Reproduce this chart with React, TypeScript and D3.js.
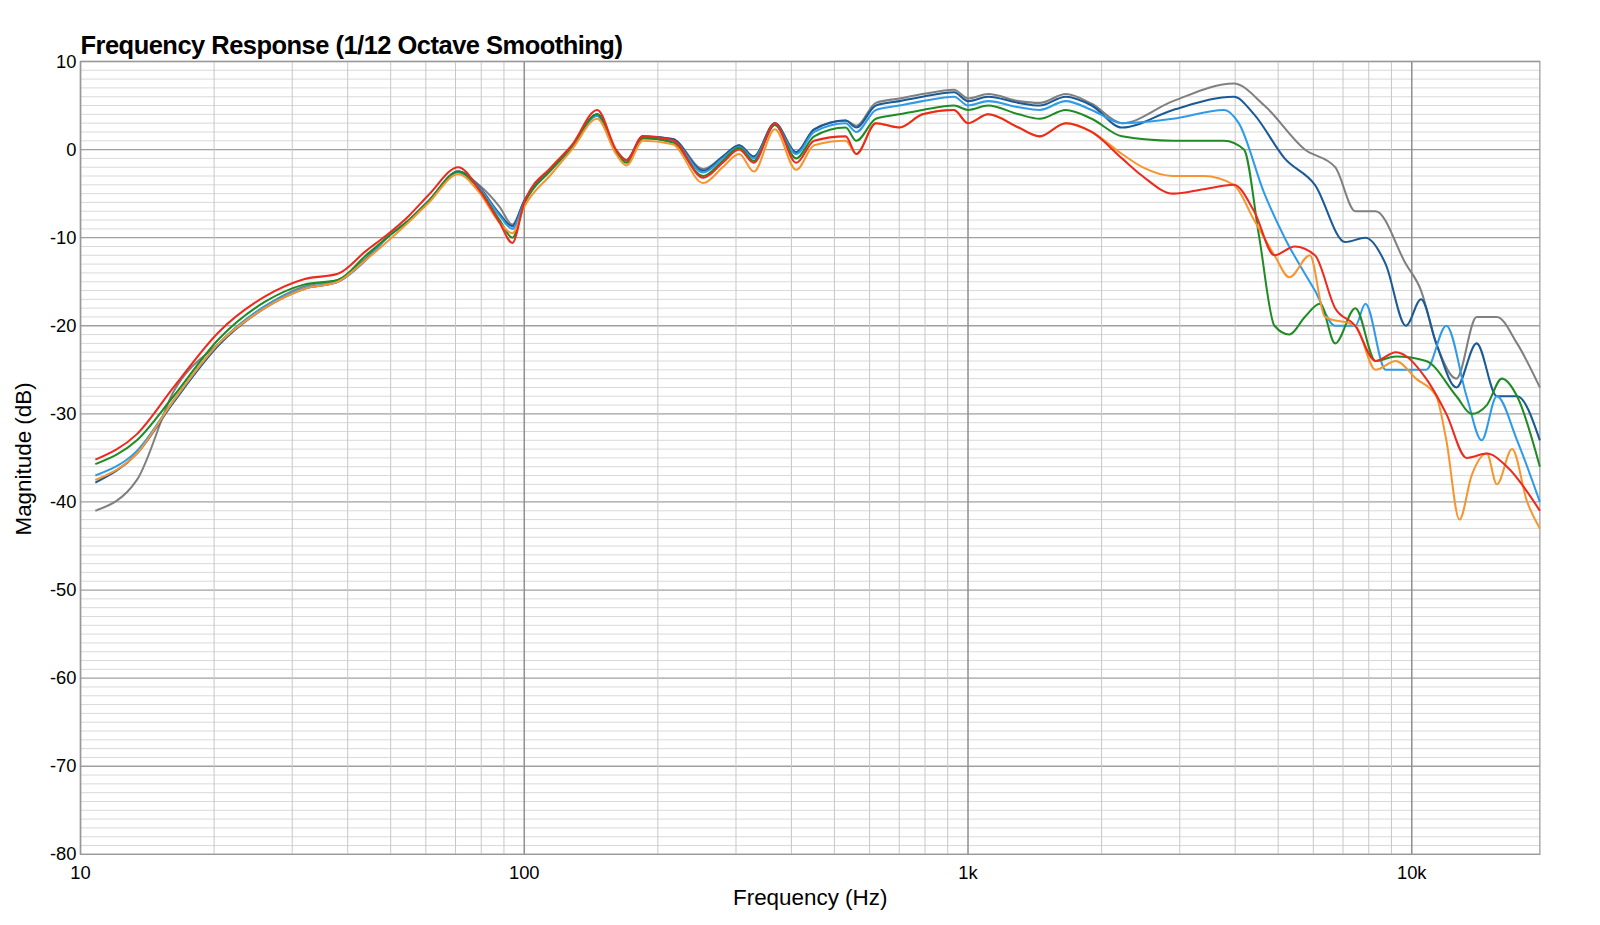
import React, { useRef, useEffect } from 'react'
import * as d3 from 'd3'

// shared low/mid frequency points (Hz)
const lowFreqs = [10.8, 13.4, 16.2, 20.5, 26, 32, 38, 44, 49, 55, 61, 71, 79, 88, 94, 100, 115, 128, 146, 161, 170, 185, 216, 253, 280, 305, 329, 367, 410, 450, 530, 560, 620, 700, 790, 930, 1000, 1110, 1300, 1450, 1660, 1900]

const redLow = [-35.2, -32.3, -27, -20.7, -16.7, -14.7, -14.1, -11.5, -9.7, -7.5, -5.1, -2, -4.5, -8.3, -10.6, -6, -2, 0.5, 4.5, 0, -1.2, 1.5, 1.1, -3.2, -1.5, 0, -1.5, 3, -1.5, 1, 1.5, -0.5, 3, 2.5, 4, 4.5, 3, 4, 2.5, 1.5, 3, 2]
const orangeLow = [-37.5, -34.5, -28.5, -22, -18, -15.8, -15, -12.5, -10.5, -8.2, -6, -2.8, -4.8, -8.3, -9.5, -6.5, -2.8, 0, 3.5, -0.5, -1.8, 1, 0.6, -3.8, -2, -0.5, -2.5, 2.3, -2.3, 0.5, 1, -0.5, 3, 2.5, 4, 4.5, 3, 4, 2.5, 1.5, 3, 2]
const greenLow = [-35.7, -33, -28, -21.5, -17.3, -15.3, -14.8, -12, -10, -8, -5.8, -2.5, -4.5, -8, -10, -6.2, -2.3, 0.2, 4, -0.3, -1.5, 1.3, 0.8, -3, -1.3, 0.2, -1.3, 2.8, -1, 1.5, 2.5, 1, 3.5, 4, 4.5, 5, 4.5, 5, 4, 3.5, 4.5, 3.5]
const lightBlueLow = [-37, -34.2, -28.5, -22, -17.8, -15.7, -15, -12.5, -10, -8, -5.8, -2.6, -4.3, -7.5, -9, -6, -2.3, 0.2, 3.8, -0.3, -1.3, 1.3, 1, -2.6, -1, 0.3, -1, 2.8, -0.5, 2, 3, 2, 4.5, 5, 5.5, 6, 5, 5.5, 4.8, 4.5, 5.5, 4.5]
const darkBlueLow = [-37.8, -34.5, -28.7, -22.2, -18, -15.8, -15, -12.5, -10, -8, -5.8, -2.5, -4.2, -7.3, -8.7, -5.8, -2.2, 0.3, 4, -0.2, -1.2, 1.5, 1.2, -2.4, -0.8, 0.5, -0.8, 3, -0.3, 2.3, 3.3, 2.5, 5, 5.5, 6, 6.5, 5.5, 6, 5.3, 5, 6, 5]
const grayLow = [-41, -37.5, -27.5, -22, -17.8, -15.5, -14.8, -12.3, -10, -8, -5.8, -2.5, -4, -6.5, -8.5, -5.8, -2.2, 0.3, 4, -0.2, -1.2, 1.5, 1.2, -2.2, -0.8, 0.5, -0.8, 3, -0.3, 2.3, 3.3, 2.7, 5.3, 5.8, 6.3, 6.8, 5.8, 6.3, 5.5, 5.3, 6.3, 5.2]

// high frequency segments [Hz, dB]
const redHigh: [number, number][] = [[2223, -1], [2472, -3], [2897, -5], [3395, -4.5], [3970, -4], [4413, -7], [4905, -12], [5447, -11], [6050, -12], [6720, -18], [7462, -20], [8287, -24], [9203, -23], [10773, -26], [11964, -30], [13290, -35], [14760, -34.5], [16390, -36], [19440, -41]]
const orangeHigh: [number, number][] = [[2223, -0.5], [2472, -2], [2897, -3], [3395, -3], [3970, -4], [4413, -8], [4905, -12], [5300, -14.5], [5893, -12], [6374, -19], [7462, -20], [8287, -25], [9203, -24], [10222, -26], [11353, -28], [11964, -33], [12810, -42], [13640, -37], [14760, -34.5], [15550, -38], [16830, -34], [18200, -40], [19440, -43]]
const greenHigh: [number, number][] = [[2223, 1.5], [2897, 1], [3776, 1], [4186, 0], [4533, -10], [4905, -20], [5300, -21], [5741, -19], [6210, -17.5], [6720, -22], [7462, -18], [8287, -24], [9203, -23.5], [10773, -24], [12610, -28], [13640, -30], [14760, -29], [15960, -26], [17270, -28], [19440, -36]]
const lightBlueHigh: [number, number][] = [[2223, 3], [2897, 3.5], [3776, 4.5], [4075, 3], [4655, -5], [5170, -10], [6050, -16], [6720, -20], [7462, -20], [7863, -17.5], [8733, -25], [9700, -25], [10773, -25], [11964, -20], [13290, -28], [14370, -33], [15550, -28], [17270, -33], [19440, -40]]
const darkBlueHigh: [number, number][] = [[2223, 2.5], [2897, 4.5], [3970, 6], [4413, 4], [5170, -1], [6050, -4], [7080, -10.5], [7863, -10], [8733, -13], [9700, -20], [10494, -17], [11353, -22], [12610, -27], [14000, -22], [15550, -28], [17270, -28], [19440, -33]]
const grayHigh: [number, number][] = [[2223, 3], [2897, 5.5], [3970, 7.5], [4655, 5], [5741, 0], [6720, -2], [7462, -7], [8287, -7], [9700, -13], [10494, -16], [11353, -22], [12610, -26], [14000, -19], [15550, -19], [17270, -22], [19440, -27]]

const series = [
  { name: 'gray', color: '#808080', low: grayLow, high: grayHigh },
  { name: 'darkblue', color: '#1a5a96', low: darkBlueLow, high: darkBlueHigh },
  { name: 'lightblue', color: '#2f9be8', low: lightBlueLow, high: lightBlueHigh },
  { name: 'green', color: '#1e8c23', low: greenLow, high: greenHigh },
  { name: 'orange', color: '#f7952f', low: orangeLow, high: orangeHigh },
  { name: 'red', color: '#ee2a1f', low: redLow, high: redHigh },
]

const xTicks = [10, 100, 1000, 10000]
const xTickLabels = ['10', '100', '1k', '10k']
const yTicks = [10, 0, -10, -20, -30, -40, -50, -60, -70, -80]

export default function App() {
  const svgRef = useRef<SVGSVGElement>(null)

  useEffect(() => {
    if (!svgRef.current) return
    const svg = d3.select(svgRef.current)
    svg.selectAll('*').remove()
    const font = 'Liberation Sans, Arial, sans-serif'

    const left = 79, right = 1511, top = 60, bottom = 838
    const x = d3.scaleLog().domain([10, 19440]).range([left, right])
    const y = d3.scaleLinear().domain([-80, 10]).range([bottom, top])

    const grid = svg.append('g')
    // minor horizontal every 1 dB
    grid.selectAll('.hmin').data(d3.range(-80, 11, 1)).join('line')
      .attr('x1', left).attr('x2', right)
      .attr('y1', d => y(d)).attr('y2', d => y(d))
      .attr('stroke', d => d % 10 === 0 ? '#a0a0a0' : '#d0d0d0')
      .attr('stroke-width', d => d % 10 === 0 ? 1.3 : 0.8)
    // vertical lines
    const vlines: number[] = []
    for (const dec of [10, 100, 1000, 10000]) for (let k = 1; k < 10; k++) {
      const f = dec * k
      if (f <= 19440) vlines.push(f)
    }
    grid.selectAll('.v').data(vlines).join('line')
      .attr('x1', d => x(d)).attr('x2', d => x(d))
      .attr('y1', top).attr('y2', bottom)
      .attr('stroke', d => xTicks.includes(d) ? '#909090' : '#c8c8c8')
      .attr('stroke-width', d => xTicks.includes(d) ? 1.5 : 1)
    svg.append('rect').attr('x', left).attr('y', top)
      .attr('width', right - left).attr('height', bottom - top)
      .attr('fill', 'none').attr('stroke', '#999').attr('stroke-width', 1.2)

    const line = d3.line<[number, number]>()
      .x(d => x(d[0])).y(d => y(d[1]))
      .curve(d3.curveMonotoneX)

    series.forEach(s => {
      const pts: [number, number][] = lowFreqs.map((f, i) => [f, s.low[i]] as [number, number]).concat(s.high)
      svg.append('path').attr('d', line(pts))
        .attr('fill', 'none').attr('stroke', s.color).attr('stroke-width', 2)
        .attr('stroke-linejoin', 'round')
    })

    // tick labels
    svg.selectAll('.yt').data(yTicks).join('text')
      .attr('x', left - 4).attr('y', d => y(d) + 6)
      .attr('text-anchor', 'end').attr('font-family', font).attr('font-size', 18)
      .text(d => d)
    svg.selectAll('.xt').data(xTicks).join('text')
      .attr('x', d => x(d)).attr('y', bottom + 24)
      .attr('text-anchor', 'middle').attr('font-family', font).attr('font-size', 18)
      .text((_, i) => xTickLabels[i])

    svg.append('text').attr('x', left).attr('y', 53)
      .attr('font-family', font).attr('font-size', 25).attr('font-weight', 'bold')
      .attr('letter-spacing', -0.5)
      .text('Frequency Response (1/12 Octave Smoothing)')
    svg.append('text').attr('x', 795).attr('y', 888)
      .attr('text-anchor', 'middle').attr('font-family', font).attr('font-size', 22)
      .text('Frequency (Hz)')
    svg.append('text').attr('transform', 'translate(30,450) rotate(-90)')
      .attr('text-anchor', 'middle').attr('font-family', font).attr('font-size', 22)
      .text('Magnitude (dB)')
  }, [])

  return (
    <svg ref={svgRef} width={1600} height={925} viewBox="0 0 1570 907"
      style={{ position: 'absolute', left: 0, top: 0, background: '#fff' }} />
  )
}
